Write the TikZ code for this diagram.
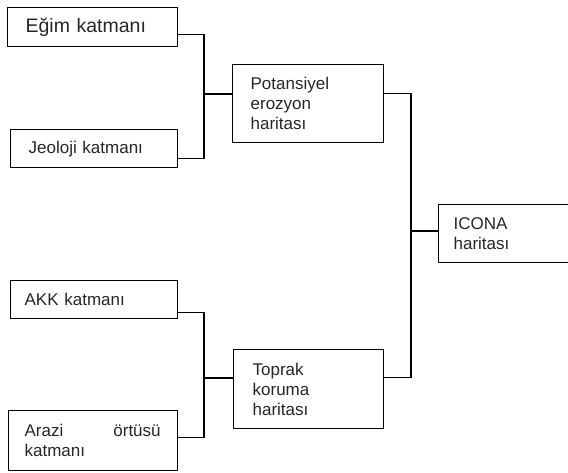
\documentclass[tikz,border=0pt]{standalone}
\usepackage{fontspec}
\setmainfont{Liberation Sans}
\begin{document}
\begin{tikzpicture}[x=1pt,y=-1pt,
  box/.style={draw, line width=1.3pt, rectangle, inner ysep=0pt, anchor=north west, align=left,
    font=\fontsize{17}{20}\selectfont, text=black!85},
  wire/.style={line width=1.3pt}]
\useasboundingbox (0,0) rectangle (568,472);
\node[box, minimum width=170pt, minimum height=39pt, inner xsep=18pt, text width=134pt, font=\fontsize{19.5}{22}\selectfont] (egim) at (7,7) {E\u{g}im katman\i};
\node[box, minimum width=167pt, minimum height=38pt, inner xsep=18pt, text width=131pt] (jeol) at (10,129) {Jeoloji katman\i};
\node[box, minimum width=151pt, minimum height=78pt, inner xsep=18pt, text width=115pt] (pot) at (232,64) {Potansiyel\\erozyon\\haritas\i};
\node[box, minimum width=167pt, minimum height=38pt, inner xsep=14pt, text width=139pt] (akk) at (10,280) {AKK katman\i};
\node[box, minimum width=169pt, minimum height=60pt, inner xsep=16pt, text width=137pt] (arazi) at (8,410) {\makebox[136pt][l]{Arazi\hfill örtüsü}\\katman\i};
\node[box, minimum width=150pt, minimum height=79pt, inner xsep=19pt, text width=112pt] (toprak) at (233,349) {Toprak\\koruma\\haritas\i};
\node[box, minimum width=142pt, minimum height=58pt, inner xsep=15pt, text width=112pt] (icona) at (438,204) {ICONA\\haritas\i};
\coordinate (j1) at (204,94);
\coordinate (j2) at (204,378);
\coordinate (j3) at (411,231);
\draw[wire] ([yshift=-7.5pt]egim.east) -| (j1) |- ([yshift=-10pt]jeol.east);
\draw[wire] (j1) -- (pot.west |- j1);
\draw[wire] ([yshift=-13pt]akk.east) -| (j2) |- ([yshift=3pt]arazi.east);
\draw[wire] (j2) -- (toprak.west |- j2);
\draw[wire] ([yshift=10pt]pot.east) -| (j3) |- ([yshift=11.5pt]toprak.east);
\draw[wire] (j3) -- (icona.west |- j3);
\end{tikzpicture}
\end{document}
